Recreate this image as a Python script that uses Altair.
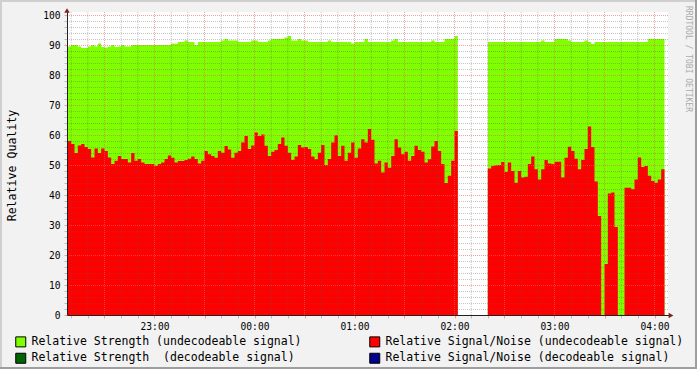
import altair as alt
import pandas as pd

SERIES = [
    "Relative Strength (undecodeable signal)",
    "Relative Strength\u00a0 (decodeable signal)",
    "Relative Signal/Noise (undecodeable signal)",
    "Relative Signal/Noise (decodeable signal)",
]
COLORS = ["#7FFF00", "#006400", "#FF0000", "#000090"]

# time in minutes relative to 00:00 (negative = before midnight)
seg1_start = -112   # 22:08
seg2_start = 140    # 02:20
step_minutes = 2
view_start = -112.5  # 22:07:30
view_end = 248.1     # 04:08:06

strength1 = [
    89.5, 90, 90, 89.5, 89, 89, 89.5, 90, 89.5, 90.5,
    89.3, 89.2, 89.5, 90, 89.3, 89.5, 90, 89.5, 89.5, 90,
    90, 90, 90, 90, 90, 90, 90, 90, 90, 90, 90,
    90.5, 90.4, 91, 91, 91.5, 91, 91, 90, 91,
    91, 91, 91, 91, 91, 91,
    91.5, 92, 91.5, 91.5, 91.5, 91, 91, 91, 91, 91.5, 91.5, 91, 91, 91,
    91.5, 92, 92, 92, 92, 92.5, 93, 91.5, 91.5, 92, 91.5, 91.5,
    91, 91, 91, 91, 91, 91,
    91.5,
    91, 91, 91, 91, 91, 91,
    90.5, 91, 91, 91, 92,
    91, 91, 91, 91, 91, 91, 91,
    91.5, 92,
    91, 91, 91, 91, 91, 91, 91, 91, 91, 91,
    91.5, 91, 91, 91, 92, 92, 92, 93,
]
snr1 = [
    58, 57, 54, 56.5, 57, 56, 55.3, 52.5, 55.5, 54,
    55.5, 54.7, 52.5, 50.3, 51.4, 53, 52, 52, 50.8, 54,
    51.4, 52, 50.8, 50.3, 50.3, 50.3, 49.7, 50.3, 50.8, 52,
    53.2, 52.4, 50.8, 51.3, 51.3, 51.7, 52.1, 52.8, 52, 50.5,
    51.4, 54.7, 53.6, 53, 52.4, 54.7, 54.1, 56.3, 55.2, 52.4,
    54.1, 54.7, 57.5, 59.7, 55.3, 56.5, 60.8, 59.7, 60.2, 56.4,
    53, 54.4, 55, 57, 59.2, 56.4, 54.1, 51.7, 52.8, 56.7,
    55.8, 56, 55.3, 52.8, 51.9, 54.1, 56.7, 50, 52, 57.5,
    59.9, 53, 56.4, 51.4, 54.1, 57.5, 52.4, 55.5, 58.6, 57.5,
    62, 58.4, 50.5, 51.4, 47.5, 50.8, 49.1, 53, 58.6, 55.8,
    53.6, 54.4, 51.4, 53, 56.4, 55, 54.4, 50.8, 51.9, 56.2,
    58, 54.7, 50.3, 44, 46.4, 51.4, 61.3,
]
strength2 = [
    91, 91, 91, 91, 91, 91, 91, 91, 91, 91, 91, 91, 91, 91, 91, 91,
    91.5, 91, 91, 91, 92, 92, 92, 92, 91.5, 91, 91, 91, 91,
    91.5, 91, 90.3,
    91, 91, 91, 91, 91, 91, 91, 91, 91, 91, 91, 91, 91, 91, 91, 91,
    92, 92, 92, 92, 92,
]
snr2 = [
    48.8, 49.7, 49.9, 50, 51, 47.7, 50.8, 48, 44.1, 48,
    45.8, 46.1, 50.3, 52.8, 48.6, 45.2, 48.6, 51.7, 50.5, 50.3,
    51.1, 51.1, 45.8, 52.4, 56.1, 54.7, 52.1, 48.6, 51.7,
    55.3, 62.8, 56, 44.5, 33, 0, 17, 40.5, 40.8, 29.3,
    0, 0, 42.4, 42.4, 41.9, 45.2, 52.5, 49.3, 49.7, 46.4,
    44.7, 44.1, 45.2, 48.6,
]

# grid / tick positions (minutes, quality units)
x_tick_values = list(range(-110, 250, 10))
x_major_grid = [m for m in x_tick_values if m % 30 == 0]
x_minor_grid = [m for m in x_tick_values if m % 30 != 0]
y_tick_values = list(range(0, 102, 2))
y_major_grid = [v for v in y_tick_values if v % 10 == 0 and v > 0]
y_minor_grid = [v for v in y_tick_values if v % 10 != 0]

WATERMARK = "RRDTOOL / TOBI OETIKER"
MONO = "DejaVu Sans Mono"
GRID_MINOR = "rgba(90,90,90,0.35)"
GRID_MAJOR = "rgba(230,100,100,0.6)"
ARROW = "#7F1F1F"


def frame(start, values, series, seg):
    n = len(values)
    t = [start + step_minutes * i for i in range(n + 1)]
    vals = list(values) + [values[-1]]
    return pd.DataFrame({"t": t, "v": vals, "series": [series] * (n + 1), "seg": [seg] * (n + 1)})


green = pd.concat([frame(seg1_start, strength1, SERIES[0], "a"),
                   frame(seg2_start, strength2, SERIES[0], "b")], ignore_index=True)
red = pd.concat([frame(seg1_start, snr1, SERIES[2], "a"),
                 frame(seg2_start, snr2, SERIES[2], "b")], ignore_index=True)


def cond(test, major, minor):
    return {"condition": {"test": test, "value": major}, "value": minor}


x_axis = alt.Axis(
    title=None,
    values=x_tick_values,
    labelExpr="datum.value % 60 == 0 ? format((datum.value / 60 + 24) % 24, '02d') + ':00' : ''",
    labelOverlap=False,
    labelFlush=False,
    labelFont=MONO,
    labelFontSize=9.6,
    labelColor="black",
    labelPadding=3,
    grid=False,
    tickColor=cond("datum.value % 30 == 0", GRID_MAJOR, GRID_MINOR),
    tickSize=3,
    domainColor="#212121",
    zindex=1,
)
y_axis = alt.Axis(
    title="Relative Quality",
    titleFont=MONO,
    titleFontSize=11.6,
    titleFontWeight="normal",
    titleColor="black",
    titleAngle=270,
    titleAlign="center",
    titleBaseline="middle",
    titleX=-55,
    titleY=153,
    values=y_tick_values,
    labelExpr="datum.value % 10 == 0 ? datum.label : ''",
    labelOverlap=False,
    labelFont=MONO,
    labelFontSize=9.6,
    labelColor="black",
    labelPadding=4,
    grid=False,
    tickColor=cond("datum.value % 10 == 0", GRID_MAJOR, GRID_MINOR),
    tickSize=3,
    domainColor="#212121",
    zindex=1,
)
legend = alt.Legend(
    title=None,
    orient="none",
    legendX=-52,
    legendY=324,
    columns=2,
    columnPadding=65,
    rowPadding=1.5,
    padding=0,
    symbolType="square",
    symbolSize=100,
    symbolStrokeColor="black",
    symbolStrokeWidth=1,
    symbolOpacity=1,
    labelFont=MONO,
    labelFontSize=11.5,
    labelColor="black",
    labelOffset=5,
    labelLimit=400,
)

x_scale = alt.Scale(domain=[view_start, view_end], nice=False, zero=False)
y_scale = alt.Scale(domain=[0, 101], nice=False, zero=True)

x_enc = alt.X("t:Q", scale=x_scale, axis=x_axis)
y_enc = alt.Y("v:Q", stack=None, scale=y_scale, axis=y_axis)
c_enc = alt.Color("series:N", scale=alt.Scale(domain=SERIES, range=COLORS), legend=legend)

green_area = alt.Chart(green).mark_area(interpolate="step-after", opacity=1).encode(
    x=x_enc, y=y_enc, color=c_enc, detail="seg:N")
red_area = alt.Chart(red).mark_area(interpolate="step-after", opacity=1).encode(
    x=x_enc, y=y_enc, color=c_enc, detail="seg:N")

vgrid_minor = alt.Chart(pd.DataFrame({"t": x_minor_grid})).mark_rule(
    color=GRID_MINOR, strokeWidth=1, strokeDash=[1, 1]).encode(x=x_enc)
vgrid_major = alt.Chart(pd.DataFrame({"t": x_major_grid})).mark_rule(
    color=GRID_MAJOR, strokeWidth=1, strokeDash=[1, 1]).encode(x=x_enc)
hgrid_minor = alt.Chart(pd.DataFrame({"v": y_minor_grid})).mark_rule(
    color=GRID_MINOR, strokeWidth=1, strokeDash=[1, 1], yOffset=0.5).encode(y=y_enc)
hgrid_major = alt.Chart(pd.DataFrame({"v": y_major_grid})).mark_rule(
    color=GRID_MAJOR, strokeWidth=1, strokeDash=[1, 1], yOffset=0.5).encode(y=y_enc)

one = pd.DataFrame({"label": [WATERMARK]})

x_ext = alt.Chart(one).mark_rule(color="#212121", strokeWidth=1).encode(
    x=alt.value(600), x2=alt.value(604), y=alt.value(303.5))
x_arrow = alt.Chart(one).mark_point(shape="triangle-right", filled=True, color=ARROW,
                                    size=30, opacity=1).encode(
    x=alt.value(604), y=alt.value(303.5))
y_arrow = alt.Chart(one).mark_point(shape="triangle-up", filled=True, color=ARROW,
                                    size=30, opacity=1).encode(
    x=alt.value(0), y=alt.value(-1.5))
watermark = alt.Chart(one).mark_text(angle=90, font=MONO, fontSize=8, color="#AAAAAA",
                                     align="center", baseline="middle").encode(
    x=alt.value(621), y=alt.value(47), text="label:N")

border_tl = alt.Chart(one).mark_rule(color="#CFCFCF", strokeWidth=2).encode(
    x=alt.value(-67), x2=alt.value(630), y=alt.value(-11))
border_l = alt.Chart(one).mark_rule(color="#CFCFCF", strokeWidth=2).encode(
    x=alt.value(-66), y=alt.value(-12), y2=alt.value(357))
border_r = alt.Chart(one).mark_rule(color="#9E9E9E", strokeWidth=2).encode(
    x=alt.value(629), y=alt.value(-12), y2=alt.value(357))
border_b = alt.Chart(one).mark_rule(color="#9E9E9E", strokeWidth=2).encode(
    x=alt.value(-67), x2=alt.value(630), y=alt.value(356))

chart = alt.layer(
    green_area, red_area, vgrid_minor, hgrid_minor, vgrid_major, hgrid_major,
    x_ext, x_arrow, y_arrow, watermark,
    border_tl, border_l, border_r, border_b,
).properties(
    width=601,
    height=303,
    autosize=alt.AutoSizeParams(type="none"),
    padding={"left": 67, "top": 12, "right": 29, "bottom": 54},
    background="#F2F2F2",
).configure_view(fill="white", stroke=None)

chart.save("out.html", embed_options={"renderer": "svg", "actions": False})
